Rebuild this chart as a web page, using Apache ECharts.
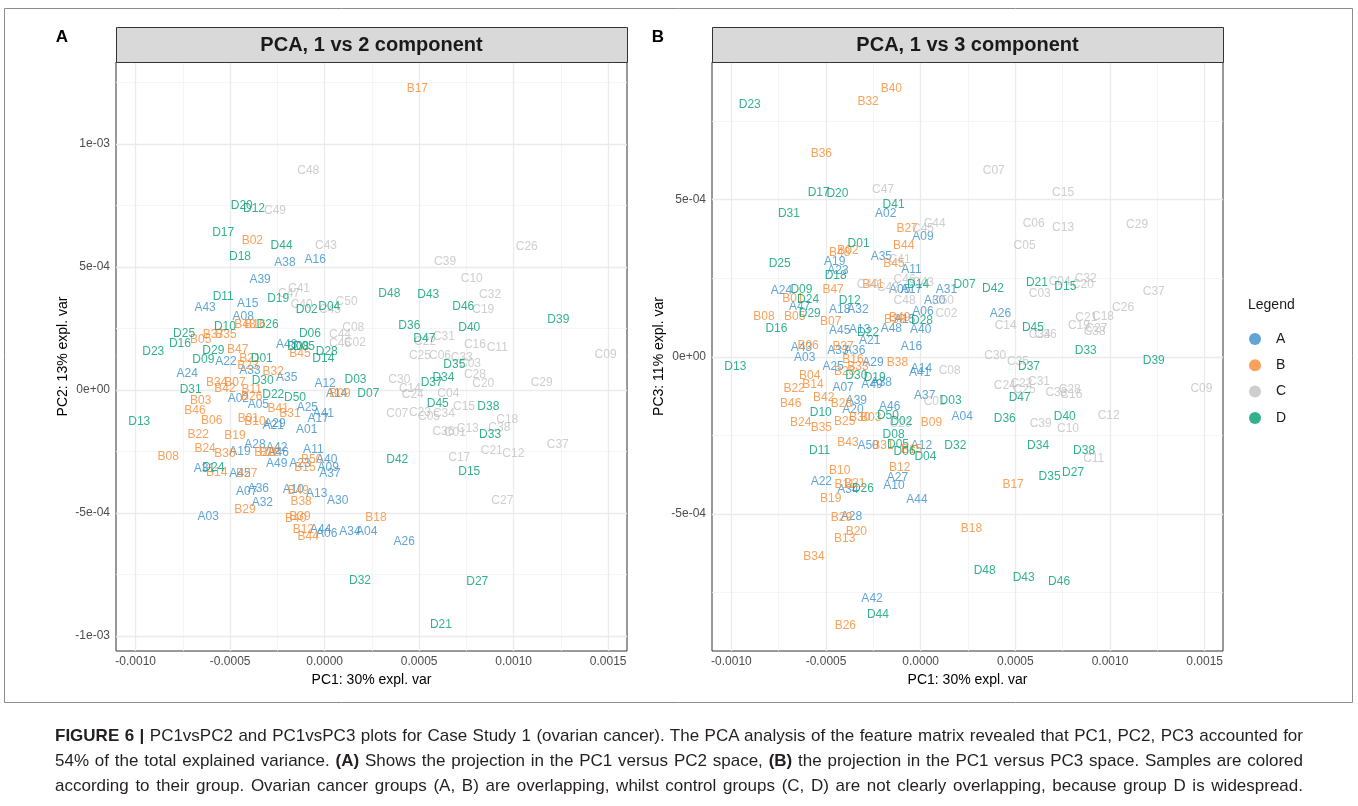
<!DOCTYPE html>
<html>
<head>
<meta charset="utf-8">
<script src="https://cdn.jsdelivr.net/npm/echarts@6/dist/echarts.min.js"></script>
<style>
  html, body { margin: 0; padding: 0; background: #fff; }
  #chart { position: absolute; left: 0; top: 0; width: 1358px; height: 806px; }
  #caption { position: absolute; left: 55px; top: 723px; width: 1248px;
             font-family: "Liberation Sans", Arial, sans-serif; font-size: 17px; color: #231f20; }
  .cl { height: 25px; line-height: 25px; white-space: nowrap; }
  .cl span { display: inline-block; transform-origin: 0 50%; }
</style>
</head>
<body>
<div id="chart"></div>
<div id="caption">
  <div class="cl"><span><b>FIGURE 6 |</b> PC1vsPC2 and PC1vsPC3 plots for Case Study 1 (ovarian cancer). The PCA analysis of the feature matrix revealed that PC1, PC2, PC3 accounted for</span></div>
  <div class="cl"><span>54% of the total explained variance. <b>(A)</b> Shows the projection in the PC1 versus PC2 space, <b>(B)</b> the projection in the PC1 versus PC3 space. Samples are colored</span></div>
  <div class="cl"><span>according to their group. Ovarian cancer groups (A, B) are overlapping, whilst control groups (C, D) are not clearly overlapping, because group D is widespread.</span></div>
</div>
<script>
// Sample scores, in units of 1e-4: [label, PC1, PC2]
const UNIT = 1e-4;

const groupA_pc12 = [
  ['A16',-0.50,5.31],['A38',-2.10,5.19],['A39',-3.42,4.50],['A43',-6.33,3.35],['A15',-4.07,3.50],
  ['A08',-4.31,2.96],['A22',-5.22,1.15],['A24',-7.27,0.68],['A33',-3.95,0.77],['A35',-2.01,0.50],
  ['A48',-2.01,1.83],['A12',0.02,0.27],['A14',0.63,-0.16],['A02',-4.57,-0.34],['A05',-3.51,-0.61],
  ['A25',-0.92,-0.70],['A41',-0.07,-0.95],['A17',-0.34,-1.15],['A29',-2.63,-1.35],['A21',-2.72,-1.46],
  ['A01',-0.95,-1.60],['A28',-3.69,-2.24],['A42',-2.54,-2.33],['A19',-4.48,-2.51],['A46',-2.46,-2.55],
  ['A11',-0.60,-2.41],['A40',0.11,-2.82],['A23',-1.31,-2.98],['A09',0.19,-3.14],['A37',0.28,-3.41],
  ['A49',-2.54,-2.98],['A31',-6.37,-3.18],['A45',-4.48,-3.39],['A07',-4.13,-4.13],['A36',-3.51,-4.00],
  ['A10',-1.66,-4.04],['A13',-0.42,-4.20],['A32',-3.30,-4.57],['A30',0.69,-4.50],['A03',-6.16,-5.15],
  ['A44',-0.21,-5.66],['A06',0.11,-5.83],['A34',1.34,-5.76],['A04',2.22,-5.76],['A26',4.21,-6.17]
];
const groupB_pc12 = [
  ['B17',4.90,12.26],['B02',-3.83,6.06],['B48',-4.22,2.65],['B16',-3.69,2.65],['B05',-6.56,2.03],
  ['B37',-5.89,2.26],['B35',-5.22,2.24],['B47',-4.60,1.63],['B21',-3.95,1.29],['B23',-4.06,0.98],
  ['B32',-2.72,0.74],['B34',-5.71,0.30],['B07',-4.75,0.30],['B42',-5.28,0.05],['B11',-3.86,0.00],
  ['B26',-3.86,-0.27],['B41',-2.46,-0.74],['B31',-1.84,-0.95],['B09',0.81,-0.17],['B45',-1.31,1.46],
  ['B03',-6.56,-0.45],['B46',-6.86,-0.84],['B06',-5.98,-1.25],['B01',-4.04,-1.15],['B10',-3.69,-1.29],
  ['B22',-6.69,-1.83],['B19',-4.75,-1.85],['B24',-6.33,-2.37],['B36',-5.28,-2.57],['B20',-3.16,-2.53],
  ['B28',-2.89,-2.56],['B08',-8.28,-2.71],['B14',-5.71,-3.36],['B27',-4.13,-3.39],['B50',-0.69,-2.82],
  ['B15',-1.04,-3.14],['B49',-1.40,-4.11],['B38',-1.25,-4.54],['B29',-4.22,-4.88],['B40',-1.53,-5.22],
  ['B39',-1.31,-5.17],['B12',-1.13,-5.66],['B44',-0.87,-5.96],['B18',2.71,-5.19]
];
const groupC_pc12 = [
  ['C48',-0.87,8.91],['C49',-2.63,7.29],['C43',0.07,5.88],['C41',-1.36,4.12],['C47',-1.89,3.90],
  ['C40',-1.22,3.46],['C45',0.28,3.25],['C50',1.16,3.59],['C08',1.51,2.53],['C44',0.81,2.26],
  ['C46',0.81,1.90],['C02',1.60,1.92],['C26',10.69,5.83],['C39',6.37,5.22],['C10',7.78,4.51],
  ['C32',8.75,3.86],['C19',8.39,3.28],['C31',6.31,2.17],['C22',5.31,1.96],['C16',7.95,1.83],
  ['C11',9.13,1.70],['C09',14.86,1.44],['C25',5.04,1.38],['C06',6.10,1.38],['C33',7.25,1.33],
  ['C03',7.69,1.06],['C28',7.95,0.61],['C20',8.39,0.24],['C29',11.48,0.31],['C30',3.95,0.43],
  ['C14',4.51,0.07],['C24',4.66,-0.20],['C04',6.54,-0.16],['C15',7.37,-0.68],['C07',3.84,-0.98],
  ['C23',5.04,-0.92],['C05',5.52,-1.09],['C34',6.31,-0.98],['C18',9.66,-1.19],['C38',9.24,-1.52],
  ['C13',7.57,-1.56],['C36',6.28,-1.70],['C01',6.89,-1.74],['C37',12.33,-2.24],['C21',8.84,-2.47],
  ['C12',9.98,-2.57],['C17',7.12,-2.74],['C27',9.40,-4.50]
];
const groupD_pc12 = [
  ['D20',-4.39,7.49],['D12',-3.74,7.35],['D17',-5.37,6.41],['D44',-2.28,5.88],['D18',-4.48,5.42],
  ['D11',-5.37,3.78],['D19',-2.46,3.73],['D02',-0.95,3.28],['D04',0.24,3.39],['D10',-5.28,2.57],
  ['D26',-3.02,2.64],['D25',-7.44,2.30],['D16',-7.66,1.87],['D23',-9.07,1.56],['D29',-5.89,1.59],
  ['D09',-6.42,1.25],['D01',-3.33,1.29],['D30',-3.28,0.38],['D22',-2.72,-0.20],['D50',-1.57,-0.30],
  ['D06',-0.78,2.28],['D08',-1.40,1.76],['D05',-1.10,1.76],['D28',0.11,1.56],['D14',-0.07,1.29],
  ['D31',-7.09,0.03],['D03',1.63,0.41],['D07',2.31,-0.13],['D13',-9.81,-1.29],['D24',-5.89,-3.14],
  ['D48',3.42,3.93],['D43',5.48,3.86],['D46',7.33,3.39],['D39',12.36,2.85],['D36',4.48,2.61],
  ['D40',7.65,2.55],['D47',5.27,2.10],['D35',6.86,1.04],['D37',5.66,0.31],['D34',6.28,0.48],
  ['D45',5.98,-0.54],['D38',8.66,-0.68],['D33',8.75,-1.83],['D42',3.84,-2.82],['D15',7.65,-3.32],
  ['D32',1.87,-7.76],['D27',8.07,-7.79],['D21',6.15,-9.55]
];

// Sample scores, in units of 1e-4: [label, PC1, PC3]
const groupA_pc13 = [
  ['A02',-1.85,4.54],['A09',0.12,3.82],['A19',-4.54,3.04],['A35',-2.08,3.18],['A11',-0.49,2.76],
  ['A23',-4.37,2.74],['A05',-1.11,2.12],['A17',-0.49,2.14],['A31',1.36,2.12],['A24',-7.36,2.09],
  ['A47',-6.39,1.61],['A18',-4.28,1.51],['A32',-3.31,1.49],['A30',0.74,1.80],['A06',0.12,1.43],
  ['A15',-0.85,1.17],['A45',-4.28,0.83],['A13',-3.22,0.85],['A48',-1.55,0.90],['A40',0.00,0.87],
  ['A21',-2.69,0.51],['A43',-6.30,0.30],['A03',-6.13,-0.03],['A33',-4.37,0.21],['A36',-3.49,0.21],
  ['A16',-0.49,0.32],['A29',-2.52,-0.19],['A25',-4.63,-0.32],['A49',-2.57,-0.90],['A38',-2.08,-0.83],
  ['A14',0.04,-0.37],['A41',-0.05,-0.51],['A07',-4.10,-0.99],['A37',0.21,-1.24],['A04',2.19,-1.91],
  ['A39',-3.40,-1.41],['A20',-3.58,-1.67],['A46',-1.64,-1.57],['A50',-2.78,-2.81],['A12',0.04,-2.84],
  ['A27',-1.23,-3.84],['A10',-1.41,-4.11],['A22',-5.25,-3.98],['A34',-3.84,-4.24],['A44',-0.20,-4.53],
  ['A28',-3.66,-5.09],['A42',-2.57,-7.69],['A26',4.21,1.36]
];
const groupB_pc13 = [
  ['B40',-1.55,8.52],['B32',-2.78,8.11],['B36',-5.25,6.45],['B27',-0.72,4.09],['B44',-0.90,3.53],
  ['B02',-3.84,3.36],['B48',-4.28,3.31],['B45',-1.41,2.95],['B41',-2.52,2.30],['B47',-4.63,2.12],
  ['B01',-6.75,1.86],['B08',-8.28,1.27],['B05',-6.66,1.27],['B07',-4.75,1.11],['B39',-1.37,1.17],
  ['B49',-1.11,1.23],['B06',-5.95,0.37],['B37',-4.10,0.32],['B16',-3.58,-0.10],['B38',-1.23,-0.19],
  ['B23',-4.01,-0.48],['B33',-3.31,-0.30],['B04',-5.86,-0.61],['B14',-5.69,-0.88],['B22',-6.69,-1.02],
  ['B42',-5.12,-1.29],['B46',-6.87,-1.50],['B28',-4.19,-1.48],['B30',-3.22,-1.94],['B03',-2.64,-1.94],
  ['B09',0.57,-2.09],['B24',-6.34,-2.10],['B35',-5.25,-2.26],['B25',-4.01,-2.07],['B43',-3.84,-2.74],
  ['B31',-1.99,-2.81],['B15',-0.48,-2.94],['B12',-1.11,-3.52],['B10',-4.28,-3.63],['B11',-4.01,-4.08],
  ['B21',-3.49,-4.02],['B19',-4.75,-4.51],['B29',-4.19,-5.11],['B20',-3.40,-5.57],['B13',-4.01,-5.78],
  ['B34',-5.64,-6.34],['B26',-3.98,-8.54],['B18',2.68,-5.48],['B17',4.88,-4.05]
];
const groupC_pc13 = [
  ['C47',-1.99,5.30],['C45',0.12,4.09],['C44',0.74,4.24],['C41',-1.11,3.08],['C46',-0.85,2.44],
  ['C43',0.12,2.35],['C40',-2.80,2.28],['C42',-1.73,2.21],['C48',-0.85,1.78],['C50',1.18,1.80],
  ['C02',1.36,1.38],['C08',1.53,-0.45],['C01',0.74,-1.43],['C23',-1.06,-2.11],['C07',3.86,5.92],
  ['C15',7.52,5.23],['C06',5.97,4.24],['C13',7.52,4.10],['C29',11.43,4.19],['C05',5.49,3.55],
  ['C03',6.29,2.02],['C04',7.34,2.39],['C32',8.72,2.48],['C20',8.57,2.31],['C37',12.31,2.07],
  ['C26',10.69,1.57],['C14',4.49,0.98],['C34',6.29,0.69],['C36',6.60,0.69],['C21',8.75,1.25],
  ['C18',9.63,1.29],['C19',8.36,0.99],['C27',9.28,0.90],['C38',9.19,0.80],['C30',3.94,0.04],
  ['C35',5.14,-0.16],['C24',4.44,-0.93],['C22',5.32,-0.85],['C25',5.49,-1.06],['C31',6.25,-0.80],
  ['C33',7.17,-1.15],['C28',7.87,-1.03],['C16',7.96,-1.20],['C09',14.83,-1.01],['C39',6.34,-2.14],
  ['C10',7.78,-2.28],['C12',9.93,-1.88],['C11',9.14,-3.25]
];
const groupD_pc13 = [
  ['D23',-9.03,8.01],['D17',-5.39,5.23],['D20',-4.40,5.18],['D31',-6.96,4.56],['D41',-1.43,4.85],
  ['D01',-3.28,3.60],['D25',-7.45,2.95],['D18',-4.49,2.58],['D14',-0.14,2.31],['D07',2.32,2.30],
  ['D09',-6.30,2.12],['D24',-5.95,1.83],['D12',-3.75,1.80],['D29',-5.86,1.36],['D28',0.07,1.15],
  ['D16',-7.62,0.90],['D22',-2.78,0.76],['D13',-9.79,-0.32],['D30',-3.40,-0.61],['D19',-2.43,-0.66],
  ['D03',1.58,-1.38],['D10',-5.28,-1.77],['D50',-1.73,-1.86],['D02',-1.02,-2.07],['D08',-1.43,-2.46],
  ['D05',-1.20,-2.78],['D06',-0.85,-3.02],['D04',0.25,-3.18],['D11',-5.34,-2.99],['D26',-3.05,-4.19],
  ['D32',1.83,-2.84],['D44',-2.26,-8.20],['D42',3.82,2.18],['D21',6.14,2.35],['D15',7.64,2.23],
  ['D45',5.93,0.92],['D33',8.72,0.21],['D39',12.31,-0.13],['D37',5.72,-0.32],['D47',5.23,-1.30],
  ['D36',4.44,-1.98],['D40',7.61,-1.89],['D34',6.20,-2.83],['D38',8.63,-2.99],['D27',8.05,-3.69],
  ['D35',6.81,-3.82],['D48',3.38,-6.79],['D43',5.44,-7.03],['D46',7.31,-7.14]
];

// Axis breaks
const pc1Breaks      = [-0.001, -0.0005, 0, 0.0005, 0.001, 0.0015];
const pc1MinorBreaks = [-0.00075, -0.00025, 0.00025, 0.00075, 0.00125];
const pc2Breaks      = [-0.001, -0.0005, 0, 0.0005, 0.001];
const pc2MinorBreaks = [-0.00075, -0.00025, 0.00025, 0.00075, 0.00125];
const pc3Breaks      = [-0.0005, 0, 0.0005];
const pc3MinorBreaks = [-0.00075, -0.00025, 0.00025, 0.00075];

const groups = ['A', 'B', 'C', 'D'];
const groupColors = { A: '#388ECC', B: '#F68B33', C: '#C2C2C2', D: '#009E73' };

const FONT = '"Liberation Sans", Arial, Helvetica, sans-serif';

function toPoints(rows) {
  return rows.map(r => ({ name: r[0], value: [r[1] * UNIT, r[2] * UNIT] }));
}
function sci(v) {
  const parts = v.toExponential(0).split('e');
  const exp = parts[1];
  return parts[0] + 'e' + exp[0] + exp.slice(1).padStart(2, '0');
}

const panels = [
  {
    title: 'PCA, 1 vs 2 component', letter: 'A',
    grid: { left: 116, top: 62, width: 511, height: 589 },
    xRange: [-0.0011042, 0.0015995], yRange: [-0.001061, 0.0013333],
    yName: 'PC2: 13% expl. var',
    yBreaks: pc2Breaks, yMinor: pc2MinorBreaks,
    data: { A: groupA_pc12, B: groupB_pc12, C: groupC_pc12, D: groupD_pc12 }
  },
  {
    title: 'PCA, 1 vs 3 component', letter: 'B',
    grid: { left: 712, top: 62, width: 511, height: 589 },
    xRange: [-0.0011025, 0.001597], yRange: [-0.0009354, 0.0009376],
    yName: 'PC3: 11% expl. var',
    yBreaks: pc3Breaks, yMinor: pc3MinorBreaks,
    data: { A: groupA_pc13, B: groupB_pc13, C: groupC_pc13, D: groupD_pc13 }
  }
];

const grids = [], xAxes = [], yAxes = [], series = [], graphics = [];

panels.forEach((p, i) => {
  grids.push(Object.assign({ show: true, backgroundColor: '#fff', borderColor: '#333', borderWidth: 1 }, p.grid));

  xAxes.push({
    gridIndex: i, type: 'value', min: p.xRange[0], max: p.xRange[1],
    axisLine: { show: false }, splitLine: { show: false },
    axisTick: { show: true, length: 3, customValues: pc1Breaks, lineStyle: { color: '#333', width: 1 } },
    axisLabel: { customValues: pc1Breaks, formatter: v => v.toFixed(4), color: '#4D4D4D',
                 fontSize: 12, fontFamily: FONT, margin: 5 },
    name: 'PC1: 30% expl. var', nameLocation: 'middle', nameGap: 22,
    nameTextStyle: { fontSize: 14, color: '#000', fontFamily: FONT }
  });
  yAxes.push({
    gridIndex: i, type: 'value', min: p.yRange[0], max: p.yRange[1],
    axisLine: { show: false }, splitLine: { show: false },
    axisTick: { show: true, length: 3, customValues: p.yBreaks, lineStyle: { color: '#333', width: 1 } },
    axisLabel: { customValues: p.yBreaks, formatter: sci, color: '#4D4D4D',
                 fontSize: 12, fontFamily: FONT, margin: 6 },
    name: p.yName, nameLocation: 'middle', nameGap: 46,
    nameTextStyle: { fontSize: 14, color: '#000', fontFamily: FONT }
  });

  // Panel grid lines: each break becomes a segment spanning the panel
  const vSeg = v => ({ coords: [[v, p.yRange[0]], [v, p.yRange[1]]] });
  const hSeg = v => ({ coords: [[p.xRange[0], v], [p.xRange[1], v]] });
  series.push({
    type: 'lines', coordinateSystem: 'cartesian2d', xAxisIndex: i, yAxisIndex: i,
    silent: true, z: 1, animation: false, polyline: false,
    lineStyle: { color: '#F2F2F2', width: 0.8, opacity: 1, type: 'solid' },
    data: pc1MinorBreaks.map(vSeg).concat(p.yMinor.map(hSeg))
  });
  series.push({
    type: 'lines', coordinateSystem: 'cartesian2d', xAxisIndex: i, yAxisIndex: i,
    silent: true, z: 1, animation: false, polyline: false,
    lineStyle: { color: '#EBEBEB', width: 1.3, opacity: 1, type: 'solid' },
    data: pc1Breaks.map(vSeg).concat(p.yBreaks.map(hSeg))
  });

  groups.forEach(g => {
    series.push({
      type: 'scatter', name: g, xAxisIndex: i, yAxisIndex: i,
      data: toPoints(p.data[g]), symbolSize: 0, color: groupColors[g],
      silent: true, z: 3, clip: false, animation: false,
      emphasis: { disabled: true },
      label: { show: true, position: 'inside', formatter: '{b}', color: groupColors[g],
               fontSize: 12, fontFamily: FONT }
    });
  });

  // Facet strip with title
  graphics.push({
    type: 'rect', z: 10,
    shape: { x: p.grid.left + 0.5, y: 27.5, width: p.grid.width, height: p.grid.top - 27 },
    style: { fill: '#D9D9D9', stroke: '#333', lineWidth: 1 }
  });
  graphics.push({
    type: 'text', z: 11, x: p.grid.left + p.grid.width / 2, y: 45,
    style: { text: p.title, font: 'bold 20px ' + FONT, fill: '#1A1A1A', align: 'center', verticalAlign: 'middle' }
  });
  graphics.push({
    type: 'text', z: 11, x: p.grid.left - 54, y: 37,
    style: { text: p.letter, font: 'bold 17px ' + FONT, fill: '#000', align: 'center', verticalAlign: 'middle' }
  });
});

// Figure frame and legend title
graphics.push({
  type: 'rect', z: 0, silent: true,
  shape: { x: 4.5, y: 8.5, width: 1348, height: 694 },
  style: { fill: 'none', stroke: '#8C8C8C', lineWidth: 1 }
});
graphics.push({
  type: 'text', z: 11, x: 1248, y: 305,
  style: { text: 'Legend', font: '14px ' + FONT, fill: '#1A1A1A', align: 'left', verticalAlign: 'middle' }
});

const chart = echarts.init(document.getElementById('chart'), null, { renderer: 'canvas' });
chart.setOption({
  animation: false,
  backgroundColor: '#fff',
  grid: grids,
  xAxis: xAxes,
  yAxis: yAxes,
  series: series,
  graphic: graphics,
  legend: {
    data: groups.map(g => ({ name: g, icon: 'circle', itemStyle: { color: groupColors[g] } })),
    orient: 'vertical', left: 1244, top: 327,
    itemWidth: 32, itemHeight: 12, itemGap: 12.3, symbolKeepAspect: true,
    selectedMode: false,
    textStyle: { fontSize: 14, color: '#1A1A1A', fontFamily: FONT, lineHeight: 12 }
  }
});

// Justify each caption line to the text block width
const TARGET = 1248;
document.querySelectorAll('#caption .cl span').forEach(span => {
  const w = span.getBoundingClientRect().width;
  if (w > TARGET) {
    span.style.transform = 'scaleX(' + (TARGET / w) + ')';
  } else {
    const gaps = (span.textContent.match(/ /g) || []).length;
    if (gaps) span.style.wordSpacing = ((TARGET - w) / gaps) + 'px';
  }
});
</script>
</body>
</html>
